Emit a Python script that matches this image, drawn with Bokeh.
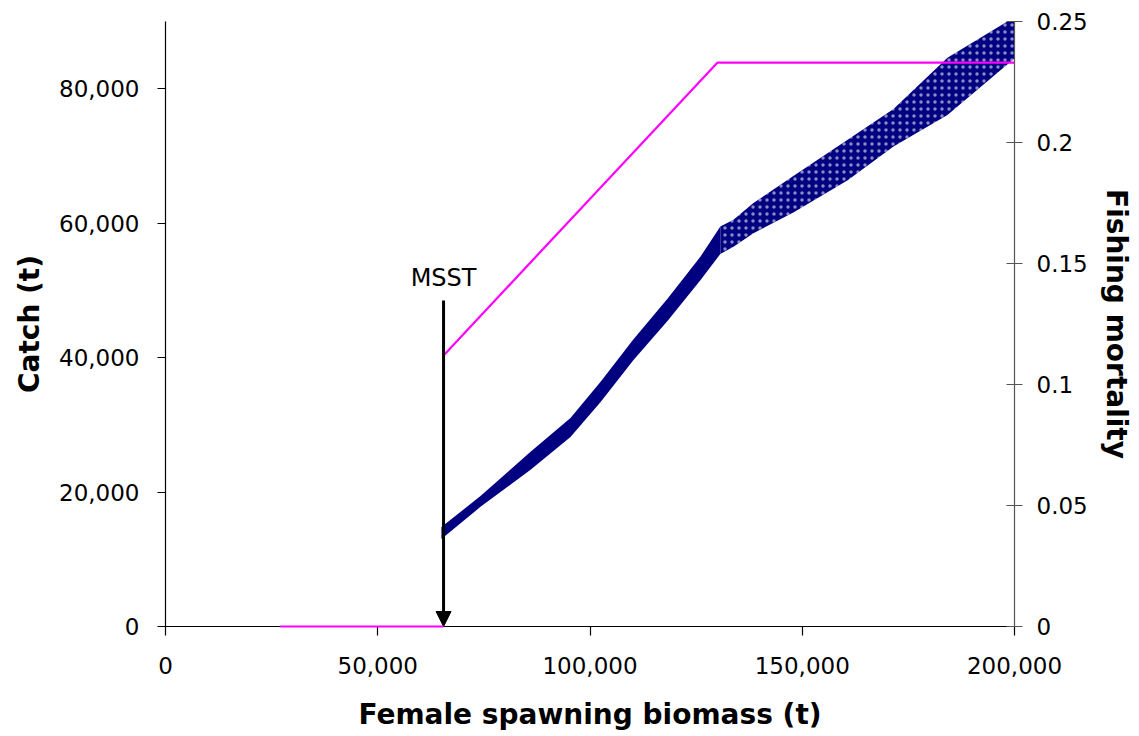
from bokeh.plotting import figure
from bokeh.models import Range1d, LinearAxis, FixedTicker, NumeralTickFormatter, Arrow, NormalHead
from bokeh.core.properties import value
from bokeh.embed import file_html
from bokeh.resources import INLINE

# ---- data ----
x_ticks = [0, 50000, 100000, 150000, 200000]
catch_ticks = [0, 20000, 40000, 60000, 80000]
f_ticks = [0, 0.05, 0.1, 0.15, 0.2, 0.25]

# Simulated catch cloud: lower / upper edges of the dense scatter band
band_biomass = [65000, 74200, 86000, 95400, 102500, 110200, 118300, 126000, 130700,
                133800, 138500, 147900, 160700, 171500, 184200, 198300, 200000]
band_catch_low = [13000, 17800, 23300, 28200, 33400, 39600, 45500, 51500, 55400,
                  56500, 58500, 61600, 66400, 71400, 76100, 83600, 84500]
band_catch_high = [14800, 19400, 26000, 31000, 36400, 42700, 48800, 55000, 59500,
                   60500, 63000, 67000, 72400, 77000, 84600, 90000, 90000]

# Harvest control rule (fishing mortality)
f_biomass = [27000, 65500, 65500, 130000, 200000]
f_values = [0, 0, 0.112, 0.233, 0.233]

# MSST marker
msst_biomass = 65500
msst_arrow_top = 48500
msst_label = "MSST"
msst_label_catch = 51900

FONT = "DejaVu Sans"

p = figure(width=1137, height=734,
           x_range=Range1d(0, 200000), y_range=Range1d(0, 90000),
           output_backend="svg", toolbar_location=None,
           min_border_left=165, min_border_right=123,
           min_border_top=21, min_border_bottom=108)
p.extra_y_ranges = {"F": Range1d(0, 0.25)}
p.outline_line_color = None
p.xgrid.visible = False
p.ygrid.visible = False
p.background_fill_color = "white"

def style_axis(ax, color="black"):
    ax.axis_line_color = color
    ax.major_tick_line_color = color
    ax.minor_tick_line_color = None
    ax.axis_line_width = 1.2
    ax.major_tick_line_width = 1.2
    ax.major_label_text_font = FONT
    ax.major_label_text_font_size = "23px"
    ax.major_label_text_color = "black"
    ax.axis_label_text_font = FONT
    ax.axis_label_text_font_style = "bold"
    ax.axis_label_text_font_size = "28px"
    ax.axis_label_text_color = "black"

# bottom axis
xa = p.xaxis[0]
style_axis(xa)
xa.ticker = FixedTicker(ticks=x_ticks)
xa.formatter = NumeralTickFormatter(format="0,0")
xa.major_tick_in = 0
xa.major_tick_out = 9
xa.major_label_standoff = 21
xa.axis_label = "Female spawning biomass (t)"
xa.axis_label_standoff = 21

# left axis
ya = p.yaxis[0]
style_axis(ya)
ya.ticker = FixedTicker(ticks=catch_ticks)
ya.formatter = NumeralTickFormatter(format="0,0")
ya.major_tick_in = 0
ya.major_tick_out = 8
ya.major_label_standoff = 18
ya.axis_label = "Catch (t)"
ya.axis_label_standoff = 10

# right axis
ra = LinearAxis(y_range_name="F")
style_axis(ra, color="#555555")
ra.ticker = FixedTicker(ticks=f_ticks)
ra.formatter = NumeralTickFormatter(format="0.[00]")
ra.major_tick_in = 8
ra.major_tick_out = 8
ra.major_label_standoff = 14
ra.axis_label = "Fishing mortality"
ra.axis_label_standoff = 9
p.add_layout(ra, "right")

# catch cloud (dense part, then sparser speckled part)
split = 8
p.varea(x=band_biomass[:split + 1], y1=band_catch_low[:split + 1], y2=band_catch_high[:split + 1],
        fill_color="#000080", fill_alpha=1.0)
p.varea(x=band_biomass[split:], y1=band_catch_low[split:], y2=band_catch_high[split:],
        fill_color="#000080", fill_alpha=1.0,
        hatch_pattern="dot", hatch_color="white", hatch_alpha=0.55, hatch_scale=7, hatch_weight=1.5)

# fishing mortality rule: zero part drawn above the x-axis line, rising part as a normal glyph
p.line(x=f_biomass[:2], y=f_values[:2], y_range_name="F", line_color="#FF00FF", line_width=2.2,
       level="overlay")
p.line(x=f_biomass[2:], y=f_values[2:], y_range_name="F", line_color="#FF00FF", line_width=2.2)

# MSST arrow and label
p.add_layout(Arrow(end=NormalHead(size=15, fill_color="black", line_color="black"),
                   x_start=msst_biomass, y_start=msst_arrow_top,
                   x_end=msst_biomass, y_end=0,
                   line_color="black", line_width=3))
p.text(x=[msst_biomass], y=[msst_label_catch], text=[msst_label],
       text_align="center", text_baseline="middle",
       text_font=value(FONT), text_font_size="24px", text_color="black")

open("out.html", "w").write(file_html(p, INLINE))
